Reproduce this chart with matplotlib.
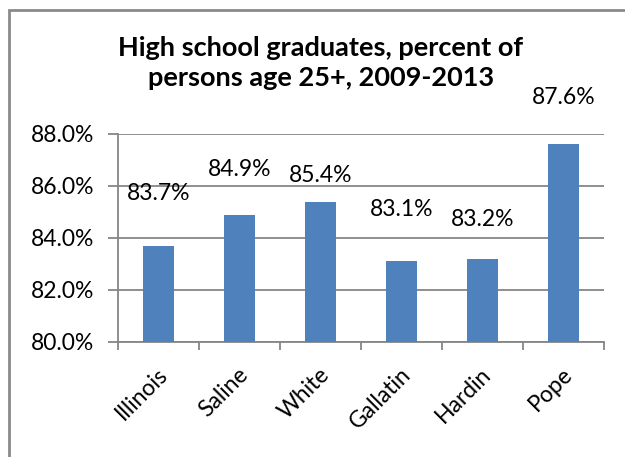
import matplotlib
matplotlib.use("Agg")
import matplotlib.pyplot as plt
from matplotlib.patches import Rectangle
from matplotlib.ticker import FuncFormatter, MultipleLocator

categories = ["Illinois", "Saline", "White", "Gallatin", "Hardin", "Pope"]
values = [83.7, 84.9, 85.4, 83.1, 83.2, 87.6]
value_labels = ["83.7%", "84.9%", "85.4%", "83.1%", "83.2%", "87.6%"]
# vertical placement of each data label above its bar (in data units)
label_offsets = [2.0, 1.75, 1.02, 2.0, 1.53, 1.8]

title = "High school graduates, percent of\npersons age 25+, 2009-2013"

FONT = ["Lato", "DejaVu Sans"]
plt.rcParams["font.family"] = FONT

W, H = 625, 457
fig = plt.figure(figsize=(W / 100, H / 100), dpi=100)
ax = fig.add_axes([118 / W, 1 - 342 / H, (604 - 118) / W, (342 - 134) / H])

bar_color = "#4F81BD"
grid_color = "#868686"
x = list(range(len(categories)))
ax.bar(x, values, width=0.39, color=bar_color, bottom=0, zorder=3)

ax.set_ylim(80, 88)
ax.set_xlim(-0.5, len(categories) - 0.5)
ax.yaxis.set_major_locator(MultipleLocator(2))
ax.yaxis.set_major_formatter(FuncFormatter(lambda v, p: f"{v:.1f}%"))
ax.grid(axis="y", color=grid_color, linewidth=1.3, zorder=0)
ax.set_axisbelow(True)

for s in ["top", "right"]:
    ax.spines[s].set_visible(False)
for s in ["left", "bottom"]:
    ax.spines[s].set_color(grid_color)
    ax.spines[s].set_linewidth(1.3)

ax.tick_params(axis="y", direction="out", length=7, width=1.3, color=grid_color,
               labelsize=16.5, pad=10, labelcolor="black")
# x ticks at category boundaries
ax.set_xticks([i - 0.5 for i in range(len(categories) + 1)])
ax.set_xticklabels([])
ax.tick_params(axis="x", direction="out", length=6, width=1.3, color=grid_color)

for i, c in enumerate(categories):
    ax.annotate(c, xy=(i, 80), xycoords="data", xytext=(4, -21),
                textcoords="offset points", rotation=45, rotation_mode="anchor",
                ha="right", va="center", fontsize=16.5, color="black",
                annotation_clip=False)

for i, (v, lab, off) in enumerate(zip(values, value_labels, label_offsets)):
    ax.text(i, v + off, lab, ha="center", va="center", fontsize=16.5,
            color="black", clip_on=False)

fig.text(321 / W, 1 - 63 / H, title, ha="center", va="center",
         fontsize=19.5, fontweight="bold", linespacing=1.3)

# outer chart frame
fig.patches.append(Rectangle((9 / W, -0.1), 1.2, 1 - 10 / H + 0.1,
                             transform=fig.transFigure, fill=False,
                             edgecolor="#8a8a8a", linewidth=2))

fig.savefig("out.png", dpi=100)
